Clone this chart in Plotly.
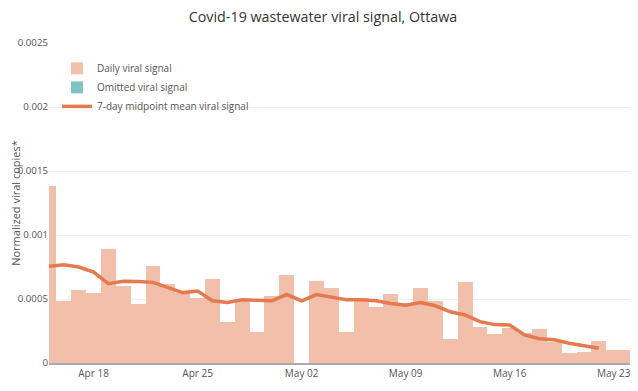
import plotly.graph_objects as go
import pandas as pd

dates = pd.date_range("2021-04-15", "2021-05-24", freq="D").strftime("%Y-%m-%d").tolist()

daily_signal = [
    0.00138, 0.000486, 0.000568, 0.000545, 0.000894, 0.000600, 0.000460, 0.000755,
    0.000620, 0.000548, 0.000506, 0.000654, 0.000320, 0.000500, 0.000240, 0.000522,
    0.000690, None, 0.000640, 0.000587, 0.000246, 0.000509, 0.000441, 0.000540,
    0.000469, 0.000589, 0.000482, 0.000185, 0.000630, 0.000278, 0.000224, 0.000277,
    0.000231, 0.000268, 0.000161, 0.000082, 0.000086, 0.000174, 0.000105, 0.000105,
]

omitted_signal = [None] * len(dates)

mean_signal = [
    0.000755, 0.000767, 0.000750, 0.000710, 0.000620, 0.000638, 0.000636, 0.000630,
    0.000589, 0.000550, 0.000563, 0.000486, 0.000473, 0.000494, 0.000490, 0.000486,
    0.000535, 0.000486, 0.000535, 0.000517, 0.000494, 0.000494, 0.000486, 0.000465,
    0.000452, 0.000473, 0.000447, 0.000400, 0.000375, 0.000323, 0.000300, 0.000297,
    0.000220, 0.000189, 0.000181, 0.000155, 0.000137, 0.000116, None, None,
]

x_tickvals = ["2021-04-18", "2021-04-25", "2021-05-02", "2021-05-09", "2021-05-16", "2021-05-23"]
x_ticktext = ["Apr 18", "Apr 25", "May 02", "May 09", "May 16", "May 23"]

fig = go.Figure()
fig.add_trace(go.Bar(x=dates, y=daily_signal, name="Daily viral signal",
                     marker=dict(color="#F2BFAB", line=dict(width=0))))
fig.add_trace(go.Bar(x=dates, y=omitted_signal, name="Omitted viral signal",
                     marker=dict(color="#7FC4C1", line=dict(width=0))))
fig.add_trace(go.Scatter(x=dates, y=mean_signal, name="7-day midpoint mean viral signal",
                         mode="lines", line=dict(color="#E5794F", width=3.5)))

fig.update_layout(
    width=630, height=383,
    margin=dict(l=41, r=2, t=35, b=28),
    paper_bgcolor="white", plot_bgcolor="white",
    font=dict(family="Open Sans", color="#444", size=10),
    title=dict(text="Covid-19 wastewater viral signal, Ottawa", x=0.5, xanchor="center",
               y=0.977, yanchor="middle", font=dict(size=14.3, color="#333")),
    barmode="overlay", bargap=0,
    showlegend=True,
    legend=dict(x=0.0136, y=0.966, xanchor="left", yanchor="top",
                bgcolor="rgba(0,0,0,0)", font=dict(size=10, color="#555"),
                traceorder="normal"),
    xaxis=dict(range=["2021-04-15", "2021-05-24 12:00"], tickvals=x_tickvals, ticktext=x_ticktext,
               showgrid=False, showline=True, linecolor="#aaa", linewidth=1.5,
               tickfont=dict(size=10, color="#555"), automargin=False),
    yaxis=dict(range=[0, 0.0025], tickvals=[0, 0.0005, 0.001, 0.0015, 0.002, 0.0025],
               ticktext=["0", "0.0005", "0.001", "0.0015", "0.002", "0.0025"],
               showgrid=True, gridcolor="#eee", zeroline=False, automargin=False,
               tickfont=dict(size=9.7, color="#555"),
               title=dict(text="Normalized viral copies*", font=dict(size=11, color="#555"), standoff=0)),
)

fig.write_html("out.html")
